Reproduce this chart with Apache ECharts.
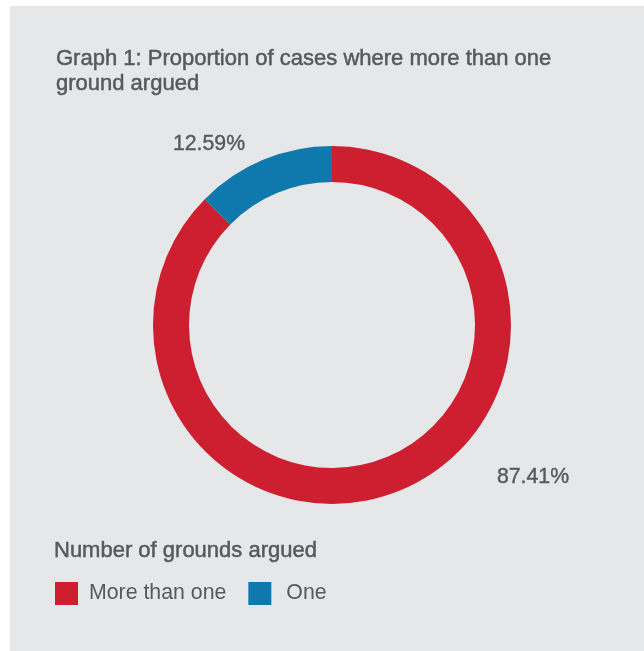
<!DOCTYPE html>
<html>
<head>
<meta charset="utf-8">
<script src="https://cdn.jsdelivr.net/npm/echarts@6/dist/echarts.min.js"></script>
<style>
html,body{margin:0;padding:0;background:#ffffff;}
#main{width:644px;height:651px;}
</style>
</head>
<body>
<div id="main"></div>
<script>
const titleText = "Graph 1: Proportion of cases where more than one\nground argued";
const legendTitle = "Number of grounds argued";
const categories = ["More than one", "One"];
const values = [87.41, 12.59];
const colors = ["#CD1F30", "#0F79AE"];
const labelPositions = [[533, 477], [209, 144]];

const chart = echarts.init(document.getElementById('main'), null, {renderer: 'canvas'});
const textColor = '#58595B';
const font = '"Liberation Sans", Arial, Helvetica, sans-serif';

chart.setOption({
  animation: false,
  backgroundColor: '#ffffff',
  graphic: [{
    type: 'rect', left: 10, top: 6, z: -10, silent: true,
    shape: {width: 634, height: 645},
    style: {fill: '#E6E7E9'}
  }],
  title: [{
    text: titleText, left: 56, top: 46, padding: 0,
    textStyle: {fontFamily: font, fontSize: 22, fontWeight: 'normal', color: textColor, lineHeight: 25,
      textBorderColor: textColor, textBorderWidth: 0.5}
  }, {
    text: legendTitle, left: 54, top: 538, padding: 0,
    textStyle: {fontFamily: font, fontSize: 22, fontWeight: 'normal', color: textColor, lineHeight: 25,
      textBorderColor: textColor, textBorderWidth: 0.5}
  }],
  legend: {
    left: 55, top: 582, padding: 0, itemWidth: 23, itemHeight: 23, itemGap: 22,
    icon: 'rect', selectedMode: false,
    data: [
      {name: categories[0], textStyle: {padding: [0, 0, 0, 6]}},
      {name: categories[1], textStyle: {padding: [0, 0, 0, 10]}}
    ],
    textStyle: {fontFamily: font, fontSize: 21.3, color: textColor, padding: [0, 0, 0, 6]}
  },
  series: [{
    type: 'pie',
    center: [332, 325],
    radius: [143, 179],
    startAngle: 90,
    clockwise: true,
    silent: true,
    avoidLabelOverlap: false,
    itemStyle: {borderWidth: 0},
    emphasis: {disabled: true},
    label: {
      show: true, position: 'outside',
      formatter: p => p.value.toFixed(2) + '%',
      fontFamily: font, fontSize: 21.3, color: textColor,
      textBorderColor: textColor, textBorderWidth: 0.4
    },
    labelLine: {show: false},
    labelLayout: function (params) {
      const pos = labelPositions[params.dataIndex];
      return {x: pos[0], y: pos[1], align: 'center', verticalAlign: 'middle'};
    },
    data: categories.map((c, i) => ({name: c, value: values[i], itemStyle: {color: colors[i]}}))
  }]
});
</script>
</body>
</html>
